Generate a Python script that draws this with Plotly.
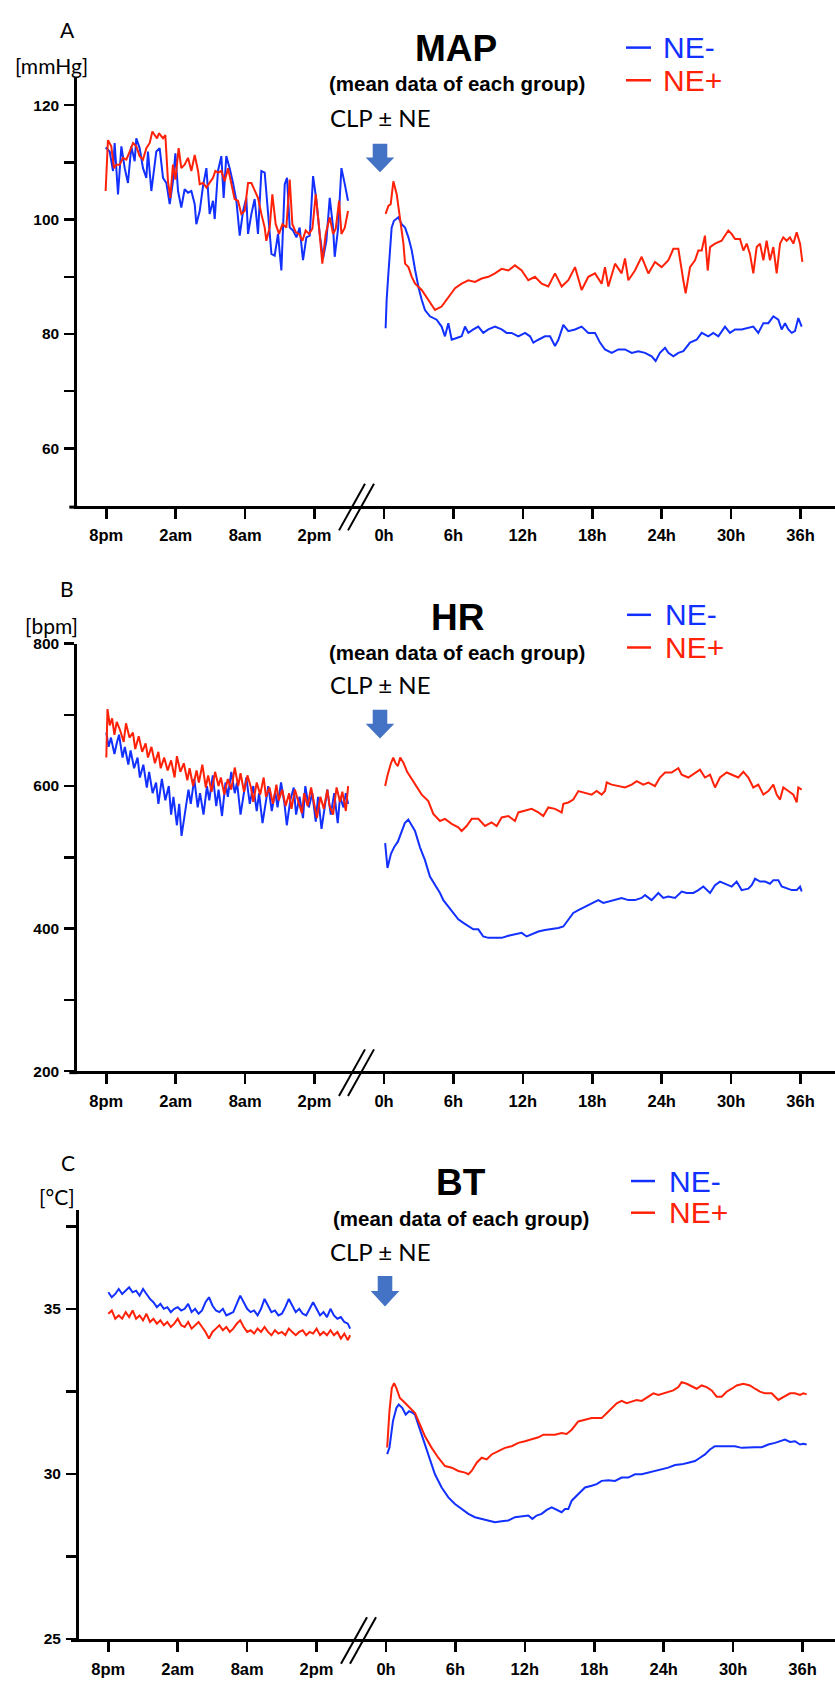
import plotly.graph_objects as go

W, H = 835, 1682
BLUE = "#1230ff"
RED = "#ff2208"
ARROW = "#4472c4"

# ---------------- data (hours relative to CLP; pre-CLP baseline on negative hours) -------------
X_TICKVALS = [-24, -18, -12, -6, 0, 6, 12, 18, 24, 30, 36]
X_TICKTEXT = ["8pm", "2am", "8am", "2pm", "0h", "6h", "12h", "18h", "24h", "30h", "36h"]

# ----- MAP (mmHg)
MAP_PRE_BLUE = [(-24.06,112.6),(-23.71,111.9),(-23.42,108.5),(-23.28,113.4),(-22.99,104.4),(-22.70,112.8),(-22.41,109.0),(-22.13,106.4),(-21.84,112.8),(-21.55,110.2),(-21.41,114.2),(-21.12,112.5),(-20.83,109.0),(-20.54,107.3),(-20.40,111.9),(-20.11,105.0),(-19.82,109.6),(-19.68,111.9),(-19.39,112.5),(-19.10,107.3),(-18.81,106.4),(-18.52,102.7),(-18.24,106.7),(-18.03,111.6),(-17.80,105.0),(-17.52,102.1),(-17.23,105.3),(-16.94,104.7),(-16.65,105.0),(-16.36,102.7),(-16.22,99.2),(-15.93,101.5),(-15.64,105.9),(-15.35,109.0),(-15.07,101.0),(-14.78,103.3),(-14.63,100.1),(-14.35,108.5),(-14.06,111.1),(-13.86,103.8),(-13.63,111.1),(-13.34,109.0),(-13.05,106.4),(-12.76,103.3),(-12.47,97.2),(-12.18,101.5),(-11.90,103.8),(-11.75,97.5),(-11.46,101.0),(-11.18,103.6),(-10.89,97.5),(-10.60,108.5),(-10.31,108.2),(-10.02,100.4),(-9.73,94.0),(-9.45,93.7),(-9.16,97.5),(-8.87,91.1),(-8.58,106.2),(-8.38,107.3),(-8.15,98.6),(-7.86,98.1),(-7.57,96.9),(-7.29,98.6),(-7.00,92.9),(-6.71,96.9),(-6.42,97.2),(-6.13,107.6),(-5.84,103.3),(-5.56,97.5),(-5.27,93.2),(-4.98,96.3),(-4.69,103.8),(-4.40,98.6),(-4.26,93.5),(-3.97,98.4),(-3.68,109.0),(-3.39,106.2),(-3.11,103.3)]
MAP_PRE_RED = [(-24.06,105.0),(-23.86,113.9),(-23.57,112.8),(-23.34,109.0),(-23.14,109.6),(-22.85,109.6),(-22.56,110.8),(-22.27,110.5),(-21.98,111.9),(-21.69,113.4),(-21.41,112.8),(-21.12,111.1),(-20.83,110.5),(-20.54,112.5),(-20.25,113.4),(-20.02,115.4),(-19.82,114.8),(-19.62,114.2),(-19.45,115.1),(-19.24,114.5),(-19.10,114.2),(-18.90,114.8),(-18.67,106.7),(-18.47,103.8),(-18.24,109.6),(-18.03,107.0),(-17.75,112.5),(-17.52,109.0),(-17.23,109.6),(-16.94,110.8),(-16.65,108.5),(-16.36,111.3),(-16.07,108.5),(-15.93,106.2),(-15.64,106.4),(-15.35,105.6),(-15.07,106.4),(-14.78,107.3),(-14.58,108.5),(-14.35,108.2),(-14.06,108.5),(-13.77,106.7),(-13.48,109.0),(-13.19,106.4),(-12.91,103.6),(-12.62,103.3),(-12.33,101.0),(-12.04,101.5),(-11.75,106.4),(-11.46,106.4),(-11.18,105.0),(-10.89,103.8),(-10.60,101.0),(-10.31,98.6),(-10.17,96.3),(-9.88,98.6),(-9.65,104.4),(-9.36,99.2),(-9.07,97.5),(-8.78,99.2),(-8.44,98.6),(-8.15,107.0),(-7.92,99.2),(-7.63,97.8),(-7.34,97.5),(-7.05,96.3),(-6.77,98.1),(-6.48,97.5),(-6.19,98.4),(-5.90,104.4),(-5.61,98.6),(-5.33,92.3),(-5.04,97.5),(-4.69,100.4),(-4.40,97.5),(-4.17,98.4),(-3.88,103.3),(-3.68,97.5),(-3.39,98.6),(-3.11,101.5)]
MAP_POST_BLUE = [(0.14,81.0),(0.23,86.0),(0.38,90.6),(0.66,98.6),(0.86,99.8),(1.24,100.4),(1.53,99.2),(1.82,98.6),(2.11,96.9),(2.40,94.6),(2.69,91.2),(3.00,88.0),(3.26,86.0),(3.54,84.2),(3.97,83.1),(4.55,82.5),(4.98,81.3),(5.27,79.6),(5.56,81.9),(5.85,79.0),(6.28,79.3),(6.71,79.6),(7.00,81.3),(7.29,80.2),(7.72,80.8),(8.15,81.3),(8.58,80.2),(9.02,80.8),(9.59,81.3),(10.17,80.8),(10.60,80.2),(11.03,80.2),(11.61,79.6),(12.19,80.2),(12.62,79.6),(12.91,78.5),(13.34,79.0),(13.91,79.6),(14.35,79.6),(14.78,77.9),(15.07,79.0),(15.50,81.6),(15.93,80.5),(16.51,80.8),(17.08,81.3),(17.66,80.2),(18.24,80.2),(18.67,78.5),(19.10,77.3),(19.68,76.7),(20.25,77.3),(20.83,77.3),(21.41,76.7),(21.98,77.0),(22.56,76.7),(23.13,76.1),(23.48,75.3),(23.85,76.7),(24.29,77.6),(24.58,76.7),(25.01,76.1),(25.44,76.7),(25.87,77.0),(26.45,78.5),(27.02,79.0),(27.46,80.2),(28.03,79.6),(28.46,80.2),(28.90,79.6),(29.47,81.3),(29.90,80.2),(30.34,80.8),(30.91,80.8),(31.49,81.1),(31.92,81.3),(32.35,80.2),(32.79,81.9),(33.22,81.9),(33.65,83.1),(34.08,82.5),(34.37,80.8),(34.66,81.9),(34.95,80.8),(35.24,80.2),(35.52,80.5),(35.81,82.8),(36.10,81.3)]
MAP_POST_RED = [(0.14,101.0),(0.38,102.4),(0.58,102.7),(0.81,106.7),(1.10,104.4),(1.39,100.4),(1.68,95.8),(1.82,92.3),(2.11,91.7),(2.40,90.0),(2.69,88.8),(3.26,87.7),(3.83,86.0),(4.41,84.2),(4.98,84.8),(5.56,86.5),(6.14,88.0),(6.71,88.8),(7.29,89.4),(7.86,89.1),(8.44,89.7),(9.02,90.0),(9.59,90.6),(10.17,91.4),(10.75,91.1),(11.32,92.0),(11.90,91.1),(12.47,89.4),(13.05,90.0),(13.63,88.8),(14.20,88.3),(14.78,90.6),(15.36,88.3),(15.93,89.4),(16.51,91.7),(17.08,87.7),(17.66,90.0),(18.24,90.6),(18.81,88.8),(19.10,91.7),(19.39,88.3),(19.97,92.3),(20.54,90.6),(20.83,93.2),(21.12,89.4),(21.69,91.1),(22.27,93.5),(22.85,90.6),(23.42,92.6),(24.00,91.7),(24.58,92.9),(25.01,94.9),(25.44,94.9),(25.87,89.4),(26.07,87.1),(26.45,91.7),(26.88,92.9),(27.17,94.6),(27.46,94.6),(27.74,97.2),(27.98,91.1),(28.18,95.2),(28.61,95.8),(29.18,96.3),(29.76,98.1),(30.05,97.5),(30.34,96.6),(30.77,96.6),(31.06,94.6),(31.35,95.8),(31.63,94.0),(31.92,90.6),(32.21,95.2),(32.50,95.8),(32.79,92.9),(33.07,96.3),(33.36,92.9),(33.65,95.2),(33.94,90.6),(34.23,95.8),(34.51,96.9),(34.80,96.3),(35.09,96.9),(35.38,95.8),(35.67,97.8),(35.96,95.8),(36.16,92.6)]

# ----- HR (bpm)
HR_PRE_BLUE = [(-24.0,675),(-23.8,655),(-23.6,668),(-23.3,645),(-23.1,660),(-22.9,672),(-22.6,640),(-22.4,655),(-22.1,630),(-21.9,650),(-21.6,625),(-21.3,640),(-21.1,612),(-20.8,630),(-20.5,598),(-20.3,620),(-20.0,590),(-19.7,605),(-19.5,575),(-19.2,610),(-18.9,580),(-18.6,600),(-18.4,560),(-18.2,585),(-17.9,545),(-17.7,575),(-17.5,530),(-17.2,565),(-16.9,595),(-16.7,575),(-16.4,610),(-16.1,570),(-15.9,590),(-15.6,560),(-15.3,600),(-15.1,580),(-14.8,615),(-14.5,572),(-14.3,595),(-14.0,558),(-13.7,605),(-13.5,585),(-13.2,620),(-12.9,590),(-12.7,605),(-12.4,560),(-12.1,595),(-11.9,612),(-11.6,575),(-11.3,600),(-11.0,565),(-10.8,590),(-10.5,548),(-10.2,580),(-10.0,600),(-9.7,565),(-9.4,592),(-9.2,570),(-8.9,605),(-8.6,575),(-8.4,545),(-8.1,580),(-7.8,598),(-7.6,560),(-7.3,585),(-7.0,555),(-6.8,600),(-6.5,570),(-6.2,590),(-5.9,550),(-5.7,585),(-5.4,540),(-5.1,575),(-4.9,595),(-4.6,560),(-4.3,590),(-4.0,548),(-3.8,585),(-3.5,570),(-3.3,590),(-3.1,575)]
HR_PRE_RED = [(-24.0,640),(-23.9,708),(-23.7,685),(-23.5,695),(-23.3,672),(-23.1,690),(-22.8,678),(-22.5,662),(-22.3,688),(-22.0,668),(-21.7,675),(-21.5,652),(-21.2,670),(-20.9,648),(-20.6,660),(-20.4,640),(-20.1,655),(-19.8,632),(-19.5,648),(-19.3,625),(-19.0,640),(-18.7,622),(-18.4,636),(-18.1,612),(-17.9,642),(-17.6,620),(-17.3,632),(-17.0,608),(-16.8,625),(-16.5,600),(-16.2,622),(-16.0,605),(-15.7,630),(-15.4,598),(-15.2,615),(-14.9,592),(-14.6,620),(-14.3,600),(-14.1,612),(-13.8,588),(-13.5,610),(-13.2,595),(-12.9,626),(-12.6,600),(-12.4,618),(-12.1,592),(-11.8,615),(-11.5,598),(-11.3,578),(-11.0,605),(-10.7,588),(-10.4,612),(-10.2,585),(-9.9,598),(-9.6,575),(-9.3,602),(-9.1,580),(-8.8,595),(-8.5,572),(-8.2,590),(-8.0,568),(-7.7,595),(-7.4,578),(-7.1,562),(-6.9,590),(-6.6,572),(-6.3,598),(-6.0,575),(-5.8,555),(-5.5,585),(-5.2,568),(-4.9,595),(-4.7,572),(-4.4,560),(-4.1,598),(-3.8,578),(-3.6,592),(-3.3,565),(-3.1,600)]
HR_POST_BLUE = [(0.1,520),(0.3,485),(0.6,505),(0.9,515),(1.2,522),(1.5,535),(1.8,548),(2.1,553),(2.4,545),(2.68,537),(3.11,514),(3.54,496),(3.97,473),(4.41,461),(4.84,450),(5.13,440),(5.56,431),(5.99,422),(6.42,413),(6.86,408),(7.29,403),(7.72,399),(8.15,399),(8.58,389),(9.02,387),(9.59,387),(10.17,387),(10.75,390),(11.32,392),(11.90,394),(12.33,389),(12.76,392),(13.34,396),(13.91,398),(14.49,399),(15.07,401),(15.50,403),(15.93,413),(16.36,422),(16.80,426),(17.37,431),(17.95,436),(18.52,440),(18.96,436),(19.39,438),(19.97,440),(20.54,443),(21.12,440),(21.69,440),(22.27,443),(22.56,447),(23.13,440),(23.71,450),(24.14,443),(24.58,445),(25.15,443),(25.73,452),(26.16,450),(26.74,450),(27.17,454),(27.60,459),(28.18,450),(28.61,461),(29.04,466),(29.47,463),(30.05,459),(30.48,466),(30.91,454),(31.49,456),(31.78,461),(32.07,470),(32.50,466),(32.93,466),(33.36,463),(33.65,468),(34.08,468),(34.37,459),(34.80,456),(35.24,454),(35.67,454),(35.96,459),(36.10,452)]
HR_POST_RED = [(0.1,600),(0.3,615),(0.6,632),(0.8,640),(1.0,632),(1.2,628),(1.4,640),(1.7,632),(2.0,620),(2.3,612),(2.68,602),(3.26,588),(3.83,579),(4.26,561),(4.84,551),(5.27,554),(5.85,547),(6.42,542),(6.71,537),(7.14,544),(7.58,554),(8.15,554),(8.73,544),(9.30,549),(9.74,544),(10.17,556),(10.75,558),(11.32,551),(11.61,563),(12.19,565),(12.76,568),(13.34,563),(13.77,558),(14.20,570),(14.78,568),(15.36,563),(15.50,575),(15.93,577),(16.36,581),(16.80,593),(17.37,591),(17.95,588),(18.38,593),(18.81,588),(19.10,593),(19.25,605),(19.68,602),(20.25,600),(20.83,598),(21.41,602),(21.84,607),(22.41,602),(22.85,605),(23.42,600),(23.85,612),(24.29,619),(24.86,619),(25.44,625),(25.73,616),(26.30,612),(26.88,619),(27.31,623),(27.74,612),(28.18,616),(28.61,598),(29.04,612),(29.62,619),(30.05,616),(30.62,612),(31.06,620),(31.49,612),(31.92,598),(32.35,602),(32.79,588),(33.22,593),(33.65,602),(33.94,588),(34.23,581),(34.51,598),(34.95,593),(35.38,588),(35.67,577),(35.81,598),(36.10,595)]

# ----- BT (deg C)
BT_PRE_BLUE = [(-24.0,35.5),(-23.7,35.35),(-23.4,35.45),(-23.1,35.6),(-22.8,35.45),(-22.5,35.55),(-22.2,35.65),(-21.9,35.5),(-21.6,35.55),(-21.3,35.4),(-21.0,35.6),(-20.7,35.45),(-20.4,35.3),(-20.1,35.2),(-19.8,35.05),(-19.5,35.15),(-19.2,35.0),(-18.9,35.05),(-18.6,34.9),(-18.3,35.0),(-18.0,35.05),(-17.7,34.95),(-17.4,35.0),(-17.1,35.15),(-16.8,34.9),(-16.5,35.0),(-16.2,34.85),(-15.9,34.95),(-15.6,35.2),(-15.3,35.35),(-15.0,35.1),(-14.7,34.95),(-14.4,34.9),(-14.1,35.0),(-13.8,34.8),(-13.5,34.85),(-13.2,34.9),(-12.9,35.15),(-12.6,35.4),(-12.3,35.2),(-12.0,35.0),(-11.7,34.9),(-11.4,34.95),(-11.1,34.8),(-10.8,35.0),(-10.5,35.3),(-10.2,35.1),(-9.9,34.9),(-9.6,34.95),(-9.3,34.8),(-9.0,34.85),(-8.7,35.05),(-8.4,35.3),(-8.1,35.1),(-7.8,34.9),(-7.5,35.0),(-7.2,34.85),(-6.9,34.8),(-6.6,35.0),(-6.3,35.2),(-6.0,35.0),(-5.7,34.8),(-5.4,34.9),(-5.1,34.75),(-4.8,35.0),(-4.5,34.8),(-4.2,34.7),(-3.9,34.75),(-3.6,34.6),(-3.3,34.55),(-3.1,34.4)]
BT_PRE_RED = [(-24.0,34.85),(-23.7,34.95),(-23.4,34.7),(-23.1,34.8),(-22.8,34.7),(-22.5,34.9),(-22.2,34.75),(-21.9,34.95),(-21.6,34.7),(-21.3,34.8),(-21.0,34.65),(-20.7,34.85),(-20.4,34.6),(-20.1,34.7),(-19.8,34.55),(-19.5,34.65),(-19.2,34.5),(-18.9,34.6),(-18.6,34.45),(-18.3,34.55),(-18.0,34.7),(-17.7,34.5),(-17.4,34.45),(-17.1,34.6),(-16.8,34.4),(-16.5,34.5),(-16.2,34.6),(-15.9,34.45),(-15.6,34.3),(-15.3,34.1),(-15.0,34.3),(-14.7,34.4),(-14.4,34.5),(-14.1,34.35),(-13.8,34.45),(-13.5,34.3),(-13.2,34.4),(-12.9,34.55),(-12.6,34.65),(-12.3,34.45),(-12.0,34.3),(-11.7,34.35),(-11.4,34.25),(-11.1,34.4),(-10.8,34.3),(-10.5,34.45),(-10.2,34.3),(-9.9,34.2),(-9.6,34.35),(-9.3,34.25),(-9.0,34.3),(-8.7,34.2),(-8.4,34.4),(-8.1,34.3),(-7.8,34.2),(-7.5,34.3),(-7.2,34.35),(-6.9,34.2),(-6.6,34.3),(-6.3,34.25),(-6.0,34.4),(-5.7,34.2),(-5.4,34.3),(-5.1,34.2),(-4.8,34.35),(-4.5,34.2),(-4.2,34.3),(-3.9,34.1),(-3.6,34.25),(-3.3,34.05),(-3.1,34.2)]
BT_POST_BLUE = [(0.1,30.6),(0.3,30.8),(0.6,31.6),(0.9,32.0),(1.1,32.1),(1.4,32.0),(1.7,31.8),(2.0,31.9),(2.3,31.85),(2.51,31.79),(3.08,31.19),(3.66,30.59),(4.23,29.99),(4.81,29.59),(5.39,29.29),(5.96,29.09),(6.54,28.94),(7.12,28.79),(7.69,28.69),(8.27,28.64),(8.84,28.59),(9.42,28.54),(9.99,28.57),(10.57,28.59),(11.15,28.69),(11.72,28.71),(12.30,28.74),(12.65,28.64),(13.02,28.74),(13.45,28.79),(13.89,28.91),(14.32,28.99),(14.75,28.91),(15.18,28.84),(15.47,28.94),(15.76,28.94),(16.05,29.19),(16.62,29.39),(17.20,29.59),(17.78,29.64),(18.21,29.69),(18.64,29.79),(19.22,29.81),(19.79,29.79),(20.37,29.89),(20.94,29.89),(21.52,29.99),(22.10,29.99),(22.67,30.04),(23.25,30.09),(23.82,30.14),(24.40,30.19),(24.98,30.27),(25.55,30.29),(26.13,30.34),(26.71,30.39),(27.14,30.49),(27.57,30.59),(28.00,30.74),(28.43,30.84),(29.01,30.84),(29.59,30.84),(30.16,30.84),(30.74,30.79),(31.32,30.81),(31.89,30.81),(32.47,30.81),(33.04,30.89),(33.62,30.94),(34.20,31.01),(34.48,31.04),(34.92,30.97),(35.35,30.99),(35.78,30.89),(36.07,30.91),(36.36,30.89)]
BT_POST_RED = [(0.1,30.8),(0.3,31.9),(0.5,32.6),(0.7,32.75),(0.9,32.6),(1.2,32.3),(1.5,32.2),(1.8,32.1),(2.1,32.0),(2.51,31.84),(2.94,31.49),(3.37,31.14),(3.95,30.79),(4.52,30.49),(5.10,30.24),(5.68,30.19),(6.25,30.09),(6.83,30.04),(7.12,29.99),(7.40,30.09),(7.84,30.34),(8.27,30.49),(8.70,30.44),(9.13,30.59),(9.71,30.69),(10.28,30.79),(10.86,30.84),(11.44,30.94),(12.01,30.99),(12.59,31.04),(13.17,31.11),(13.60,31.19),(14.03,31.19),(14.61,31.19),(15.18,31.24),(15.61,31.21),(16.05,31.34),(16.62,31.59),(17.20,31.64),(17.78,31.69),(18.21,31.69),(18.64,31.69),(19.07,31.84),(19.50,31.99),(19.94,32.14),(20.37,32.21),(20.80,32.14),(21.23,32.19),(21.66,32.24),(22.10,32.21),(22.67,32.34),(23.11,32.44),(23.54,32.39),(23.97,32.44),(24.40,32.47),(24.83,32.53),(25.27,32.63),(25.55,32.78),(25.99,32.73),(26.42,32.66),(26.85,32.58),(27.28,32.68),(27.71,32.63),(28.15,32.53),(28.58,32.34),(29.01,32.34),(29.44,32.49),(29.88,32.58),(30.31,32.68),(30.88,32.73),(31.46,32.68),(31.89,32.58),(32.32,32.49),(32.76,32.44),(33.33,32.44),(33.91,32.24),(34.48,32.34),(34.92,32.44),(35.35,32.44),(35.78,32.39),(36.07,32.44),(36.36,32.41)]

# ---------------- panel layout (pixels) ----------------
PANELS = [
    dict(title="MAP", unit="[mmHg]", letter="A",
         series=[(MAP_PRE_BLUE, MAP_POST_BLUE, BLUE, "NE-"), (MAP_PRE_RED, MAP_POST_RED, RED, "NE+")],
         yrange=[50, 125], ytickvals=[60, 70, 80, 90, 100, 110, 120], yticktext=["60", "", "80", "", "100", "", "120"],
         left=77.3, top=68.3, bottom=501.7, zero_px=384.0,
         letter_xy=(67, 21), unit_xy=(51, 57), title_xy=(456, 40), sub_xy=(456.5, 75), clp_xy=(330, 110),
         arrow=(380, 136, 150, 165), leg_x=(626, 651, 663), leg_y=(39, 72)),
    dict(title="HR", unit="[bpm]", letter="B",
         series=[(HR_PRE_BLUE, HR_POST_BLUE, BLUE, "NE-"), (HR_PRE_RED, HR_POST_RED, RED, "NE+")],
         yrange=[200, 800], ytickvals=[200, 300, 400, 500, 600, 700, 800], yticktext=["200", "", "400", "", "600", "", "800"],
         left=77.3, top=641.0, bottom=1073.0, zero_px=384.0,
         letter_xy=(67, 585), unit_xy=(51, 623), title_xy=(457, 615), sub_xy=(457, 650), clp_xy=(330, 682),
         arrow=(380, 708, 722, 737), leg_x=(627, 651, 665), leg_y=(612, 645)),
    dict(title="BT", unit="[°C]", letter="C",
         series=[(BT_PRE_BLUE, BT_POST_BLUE, BLUE, "NE-"), (BT_PRE_RED, BT_POST_RED, RED, "NE+")],
         yrange=[25, 38], ytickvals=[25, 27.5, 30, 32.5, 35, 37.5], yticktext=["25", "", "30", "", "35", ""],
         left=79.0, top=1213.0, bottom=1646.7, zero_px=386.0,
         letter_xy=(67.5, 1165), unit_xy=(57, 1200), title_xy=(461, 1185), sub_xy=(461, 1222), clp_xy=(330, 1255),
         arrow=(385, 1280, 1295, 1310.7), leg_x=(631, 655, 669), leg_y=(1184, 1216)),
]
PX_PER_HOUR = 11.57

def fx(p):
    return p / W

def fy(p):
    return 1 - p / H

fig = go.Figure()
shapes, annotations = [], []
layout_axes = {}

TICK_FONT = dict(family="Liberation Sans, Arial, sans-serif", size=15.5, color="black", weight="bold")
CAL = "Lato, Carlito, Calibri, sans-serif"
ARIAL = "Liberation Sans, Arial, sans-serif"

for i, p in enumerate(PANELS):
    n = "" if i == 0 else str(i + 1)
    xa, ya = "x" + n, "y" + n
    xmin = (p["left"] - p["zero_px"]) / PX_PER_HOUR
    xmax = (W - p["zero_px"]) / PX_PER_HOUR
    for pre, post, color, name in p["series"]:
        xs = [t for t, _ in pre] + [None] + [t for t, _ in post]
        ys = [v for _, v in pre] + [None] + [v for _, v in post]
        fig.add_trace(go.Scatter(x=xs, y=ys, mode="lines", name=name, xaxis=xa, yaxis=ya,
                                 line=dict(color=color, width=2), connectgaps=False, showlegend=False))
    layout_axes["xaxis" + n] = dict(
        domain=[fx(p["left"]), 1], range=[xmin, xmax], anchor=ya,
        showline=True, linecolor="black", linewidth=3, showgrid=False, zeroline=False,
        ticks="outside", ticklen=10, tickwidth=2.5, tickcolor="black",
        tickvals=X_TICKVALS, ticktext=X_TICKTEXT, tickfont=dict(TICK_FONT, size=16.5), ticklabelstandoff=3)
    layout_axes["yaxis" + n] = dict(
        domain=[fy(p["bottom"]), fy(p["top"])], range=p["yrange"], anchor=xa,
        showline=True, linecolor="black", linewidth=3, showgrid=False, zeroline=False,
        ticks="outside", ticklen=10, tickwidth=2.5, tickcolor="black",
        tickvals=p["ytickvals"], ticktext=p["yticktext"], tickfont=TICK_FONT, ticklabelstandoff=2)

    # x-axis line extends slightly left of y-axis
    shapes.append(dict(type="line", xref="paper", yref="paper", x0=fx(p["left"] - 8), x1=fx(p["left"]),
                       y0=fy(p["bottom"] + 1.5), y1=fy(p["bottom"] + 1.5), line=dict(color="black", width=3)))
    # axis break marks //
    zb = p["zero_px"]
    for off in (-19, -10):
        shapes.append(dict(type="line", xref="paper", yref="paper",
                           x0=fx(zb + off), y0=fy(p["bottom"] - 22), x1=fx(zb + off - 26), y1=fy(p["bottom"] + 25),
                           line=dict(color="black", width=2)))
    # arrow
    cx, top, hs, tip = p["arrow"]
    sw, hw = 14.6, 28.6
    pts = [(cx - sw / 2, top), (cx + sw / 2, top), (cx + sw / 2, hs), (cx + hw / 2, hs), (cx, tip),
           (cx - hw / 2, hs), (cx - sw / 2, hs)]
    path = "M " + " L ".join(f"{fx(a):.5f},{fy(b):.5f}" for a, b in pts) + " Z"
    shapes.append(dict(type="path", xref="paper", yref="paper", path=path,
                       fillcolor=ARROW, line=dict(color=ARROW, width=0)))
    # legend keys
    lx0, lx1, ltx = p["leg_x"]
    for (pre, post, color, name), ly in zip(p["series"], p["leg_y"]):
        shapes.append(dict(type="line", xref="paper", yref="paper", x0=fx(lx0), x1=fx(lx1),
                           y0=fy(ly), y1=fy(ly), line=dict(color=color, width=2.5)))
        annotations.append(dict(text=name, x=fx(ltx - 2), y=fy(ly), xref="paper", yref="paper",
                                xanchor="left", yanchor="middle", showarrow=False,
                                font=dict(family=ARIAL, size=30, color=color)))
    # texts
    annotations += [
        dict(text=p["letter"], x=fx(p["letter_xy"][0]), y=fy(p["letter_xy"][1]), xanchor="center", yanchor="middle",
             font=dict(family=CAL, size=21, color="black")),
        dict(text=p["unit"], x=fx(p["unit_xy"][0]), y=fy(p["unit_xy"][1]), xanchor="center", yanchor="middle",
             font=dict(family=CAL, size=21, color="black")),
        dict(text=p["title"], x=fx(p["title_xy"][0]), y=fy(p["title_xy"][1]), xanchor="center", yanchor="middle",
             font=dict(family=ARIAL, size=37, color="black", weight="bold")),
        dict(text="(mean data of each group)", x=fx(p["sub_xy"][0]), y=fy(p["sub_xy"][1]), xanchor="center",
             yanchor="middle", font=dict(family=ARIAL, size=20.5, color="black", weight="bold")),
        dict(text="CLP ± NE", x=fx(p["clp_xy"][0] - 2), y=fy(p["clp_xy"][1]), xanchor="left", yanchor="middle",
             font=dict(family=CAL, size=24, color="black")),
    ]

for a in annotations:
    a.setdefault("xref", "paper")
    a.setdefault("yref", "paper")
    a.setdefault("showarrow", False)

fig.update_layout(
    width=W, height=H, margin=dict(l=0, r=0, t=0, b=0),
    paper_bgcolor="white", plot_bgcolor="white", showlegend=False,
    shapes=shapes, annotations=annotations, **layout_axes)

fig.write_html("out.html", config={"displayModeBar": False, "staticPlot": True},
               post_script="document.body.style.margin='0px';document.body.style.padding='0px';"
                           "document.documentElement.style.overflow='hidden';")
